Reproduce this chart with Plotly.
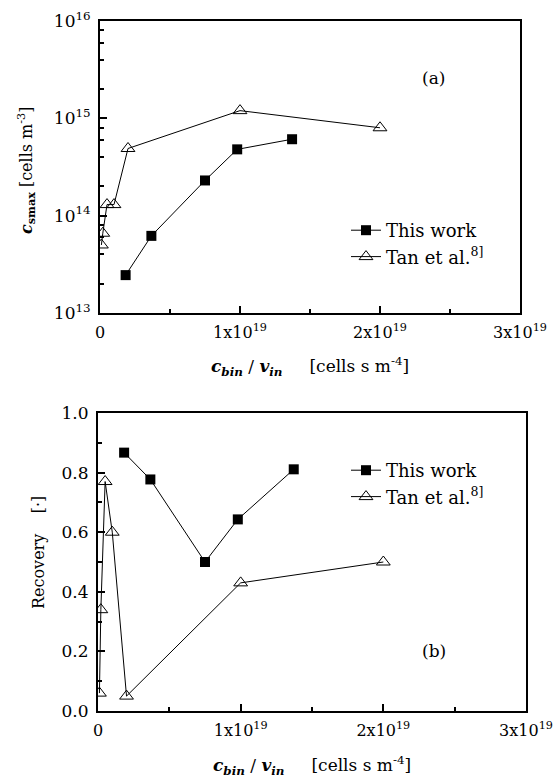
import plotly.graph_objects as go

# ---- data (x in cells s m^-4) ----
this_x = [0.183e19, 0.367e19, 0.750e19, 0.980e19, 1.372e19]
this_cmax = [2.45e13, 6.2e13, 2.3e14, 4.8e14, 6.1e14]
this_rec = [0.867, 0.777, 0.500, 0.643, 0.811]

tan_x = [0.01e19, 0.02e19, 0.05e19, 0.10e19, 0.20e19, 1.00e19, 2.00e19]
tan_cmax = [5.0e13, 6.6e13, 1.3e14, 1.3e14, 4.9e14, 1.2e15, 8.0e14]
tan_rec = [0.06, 0.34, 0.77, 0.60, 0.05, 0.43, 0.50]

x_tickvals = [0, 1e19, 2e19, 3e19]
x_ticktext = ["0", "1x10<sup>19</sup>", "2x10<sup>19</sup>", "3x10<sup>19</sup>"]
ya_tickvals = [1e13, 1e14, 1e15, 1e16]
ya_ticktext = ["10<sup>13</sup>", "10<sup>14</sup>", "10<sup>15</sup>", "10<sup>16</sup>"]
ya_minor = [m * 10 ** e for e in (13, 14, 15) for m in (2, 4, 6, 8)]
yb_tickvals = [0.0, 0.2, 0.4, 0.6, 0.8, 1.0]
yb_ticktext = ["0.0", "0.2", "0.4", "0.6", "0.8", "1.0"]

FONT = "DejaVu Serif"
BLACK = "black"

fig = go.Figure()

sq = dict(symbol="square", size=10, color=BLACK, line=dict(color=BLACK, width=0))
tri = dict(symbol="triangle-up-open", size=12, color=BLACK, line=dict(color=BLACK, width=1))
ln = dict(color=BLACK, width=1)

fig.add_trace(go.Scatter(x=this_x, y=this_cmax, mode="lines+markers", marker=sq, line=ln,
                         name="This work", xaxis="x", yaxis="y", legend="legend"))
fig.add_trace(go.Scatter(x=tan_x, y=tan_cmax, mode="lines+markers", marker=tri, line=ln,
                         name="Tan et al.<sup>8]</sup>", xaxis="x", yaxis="y", legend="legend"))
fig.add_trace(go.Scatter(x=this_x, y=this_rec, mode="lines+markers", marker=sq, line=ln,
                         name="This work", xaxis="x2", yaxis="y2", legend="legend2"))
fig.add_trace(go.Scatter(x=tan_x, y=tan_rec, mode="lines+markers", marker=tri, line=ln,
                         name="Tan et al.<sup>8]</sup>", xaxis="x2", yaxis="y2", legend="legend2"))

W, H = 553, 781
def px(v):
    return v / W
def py(v):
    return 1 - v / H

common_axis = dict(showline=True, linecolor=BLACK, linewidth=2, mirror=True,
                   ticks="inside", tickcolor=BLACK, tickwidth=2, ticklen=7,
                   showgrid=False, zeroline=False, automargin=False,
                   ticklabeloverflow="allow",
                   tickfont=dict(family=FONT, size=17, color=BLACK))
xtickfont = dict(family=FONT, size=16, color=BLACK)

fig.update_layout(
    template="none",
    width=W, height=H,
    margin=dict(l=0, r=0, t=0, b=0, autoexpand=False),
    paper_bgcolor="white", plot_bgcolor="white",
    font=dict(family=FONT, color=BLACK),
    xaxis=dict(domain=[px(100), px(520)], anchor="y", range=[0, 3e19],
               tickvals=x_tickvals, ticktext=x_ticktext, ticklabelstandoff=4,
               minor=dict(tickvals=[0.5e19, 1.5e19, 2.5e19], ticks="inside", ticklen=4,
                          tickwidth=2, tickcolor=BLACK, showgrid=False),
               **{**common_axis, "tickfont": xtickfont}),
    yaxis=dict(domain=[py(313), py(21)], anchor="x", type="log", range=[13, 16],
               tickvals=ya_tickvals, ticktext=ya_ticktext, ticklabelstandoff=4,
               minor=dict(tickvals=ya_minor, ticks="inside", ticklen=4,
                          tickwidth=2, tickcolor=BLACK, showgrid=False),
               **common_axis),
    xaxis2=dict(domain=[px(98), px(526)], anchor="y2", range=[0, 3e19],
                tickvals=x_tickvals, ticktext=x_ticktext, ticklabelstandoff=4,
                minor=dict(tickvals=[0.5e19, 1.5e19, 2.5e19], ticks="inside", ticklen=4,
                           tickwidth=2, tickcolor=BLACK, showgrid=False),
                **{**common_axis, "tickfont": xtickfont}),
    yaxis2=dict(domain=[py(711), py(413)], anchor="x2", range=[0, 1],
                tickvals=yb_tickvals, ticktext=yb_ticktext, ticklabelstandoff=4,
                minor=dict(tickvals=[0.1, 0.3, 0.5, 0.7, 0.9], ticks="inside", ticklen=4,
                           tickwidth=2, tickcolor=BLACK, showgrid=False),
                **common_axis),
    legend=dict(x=px(346), y=py(212), xanchor="left", yanchor="top",
                bgcolor="rgba(0,0,0,0)", font=dict(family=FONT, size=18, color=BLACK),
                tracegroupgap=0),
    legend2=dict(x=px(346), y=py(452), xanchor="left", yanchor="top",
                 bgcolor="rgba(0,0,0,0)", font=dict(family=FONT, size=18, color=BLACK),
                 tracegroupgap=0),
    showlegend=True,
)

ann_font = dict(family=FONT, size=17, color=BLACK)
ann = dict(xref="paper", yref="paper", showarrow=False, font=ann_font,
           xanchor="center", yanchor="middle")
xtitle = "<b><i>c</i></b><sub><b><i>bin</i></b></sub> / <b><i>v</i></b><sub><b><i>in</i></b></sub>     [cells s m<sup>-4</sup>]"
fig.add_annotation(text="(a)", x=px(433), y=py(78), **ann)
fig.add_annotation(text="(b)", x=px(434), y=py(651), **ann)
fig.add_annotation(text=xtitle, x=px(310), y=py(367), **ann)
fig.add_annotation(text=xtitle, x=px(312), y=py(765), **ann)
ann_small = {**ann, "font": dict(family=FONT, size=16, color=BLACK)}
fig.add_annotation(text="<b><i>c</i></b><sub><b>smax</b></sub> [cells m<sup>-3</sup>]",
                   x=px(26), y=py(171), textangle=-90, **ann_small)
fig.add_annotation(text="Recovery    [·]",
                   x=px(38), y=py(553), textangle=-90, **ann_small)

fig.write_html("out.html")
